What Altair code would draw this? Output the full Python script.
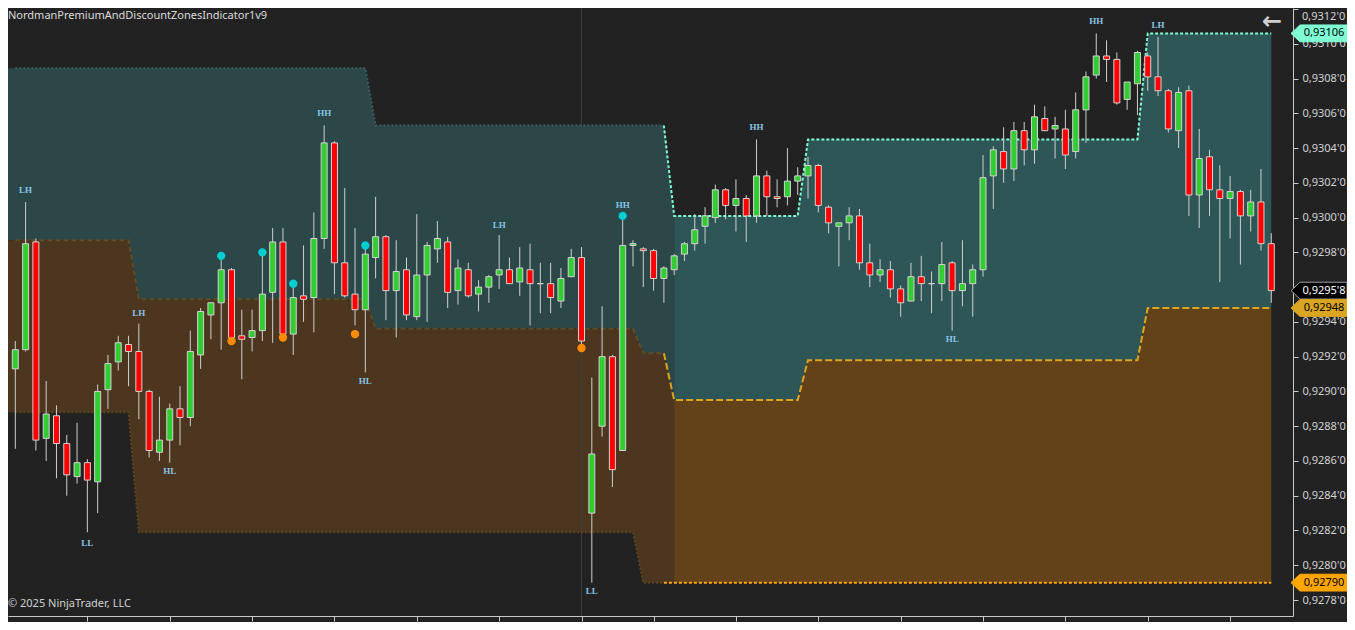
import altair as alt
import pandas as pd

# ---------------- data ----------------
OPEN = [0.92913, 0.92924, 0.92986, 0.92873, 0.92886, 0.92870, 0.92851, 0.92859, 0.92848, 0.92901,
        0.92917, 0.92927, 0.92923, 0.92900, 0.92865, 0.92872, 0.92890, 0.92885, 0.92921, 0.92944,
        0.92951, 0.92970, 0.92932, 0.92931, 0.92935, 0.92957, 0.92986, 0.92933, 0.92955, 0.92954,
        0.92988, 0.93043, 0.92974, 0.92956, 0.92947, 0.92977, 0.92989, 0.92958, 0.92970, 0.92943,
        0.92967, 0.92982, 0.92986, 0.92958, 0.92970, 0.92956, 0.92960, 0.92967, 0.92970, 0.92963,
        0.92970, 0.92962, 0.92962, 0.92952, 0.92966, 0.92977, 0.92830, 0.92880, 0.92920, 0.92866,
        0.92984, 0.92982, 0.92981, 0.92965, 0.92970, 0.92979, 0.92985, 0.92995, 0.93000, 0.93016,
        0.93007, 0.93011, 0.93001, 0.93024, 0.93012, 0.93012, 0.93021, 0.93024, 0.93030, 0.93006,
        0.92995, 0.92997, 0.93001, 0.92974, 0.92967, 0.92970, 0.92959, 0.92952, 0.92966, 0.92962,
        0.92962, 0.92974, 0.92958, 0.92962, 0.92970, 0.93024, 0.93038, 0.93028, 0.93050, 0.93039,
        0.93057, 0.93051, 0.93051, 0.93038, 0.93062, 0.93082, 0.93093, 0.93091, 0.93068, 0.93077,
        0.93093, 0.93081, 0.93073, 0.93050, 0.93073, 0.93013, 0.93035, 0.93016, 0.93011, 0.93015,
        0.93001, 0.93009, 0.92985]
HIGH = [0.92929, 0.93009, 0.92988, 0.92906, 0.92892, 0.92875, 0.92882, 0.92861, 0.92904, 0.92921,
        0.92932, 0.92932, 0.92939, 0.92901, 0.92897, 0.92893, 0.92903, 0.92935, 0.92948, 0.92951,
        0.92976, 0.92971, 0.92947, 0.92947, 0.92979, 0.92994, 0.92994, 0.92960, 0.92984, 0.93003,
        0.93053, 0.93044, 0.93017, 0.92994, 0.92983, 0.93012, 0.92990, 0.92987, 0.92977, 0.93002,
        0.92986, 0.92998, 0.92989, 0.92976, 0.92974, 0.92964, 0.92967, 0.92990, 0.92977, 0.92983,
        0.92985, 0.92974, 0.92974, 0.92971, 0.92982, 0.92983, 0.92908, 0.92949, 0.92921, 0.92999,
        0.92987, 0.92983, 0.92982, 0.92972, 0.92979, 0.92986, 0.93002, 0.93006, 0.93019, 0.93017,
        0.93022, 0.93013, 0.93045, 0.93027, 0.93022, 0.93040, 0.93029, 0.93035, 0.93031, 0.93007,
        0.92997, 0.93006, 0.93005, 0.92985, 0.92976, 0.92975, 0.92961, 0.92974, 0.92978, 0.92969,
        0.92986, 0.92975, 0.92987, 0.92973, 0.93036, 0.93041, 0.93052, 0.93055, 0.93055, 0.93065,
        0.93064, 0.93058, 0.93062, 0.93072, 0.93084, 0.93106, 0.93102, 0.93095, 0.93078, 0.93096,
        0.93095, 0.93104, 0.93074, 0.93075, 0.93076, 0.93051, 0.93039, 0.93030, 0.93024, 0.93016,
        0.93016, 0.93028, 0.92991]
LOW = [0.92867, 0.92923, 0.92866, 0.92860, 0.92850, 0.92840, 0.92847, 0.92819, 0.92830, 0.92890,
       0.92912, 0.92903, 0.92884, 0.92862, 0.92860, 0.92859, 0.92869, 0.92880, 0.92913, 0.92930,
       0.92924, 0.92930, 0.92907, 0.92923, 0.92929, 0.92928, 0.92932, 0.92921, 0.92940, 0.92934,
       0.92982, 0.92956, 0.92954, 0.92938, 0.92911, 0.92965, 0.92941, 0.92931, 0.92941, 0.92941,
       0.92940, 0.92974, 0.92948, 0.92950, 0.92954, 0.92946, 0.92951, 0.92959, 0.92962, 0.92955,
       0.92938, 0.92945, 0.92945, 0.92948, 0.92966, 0.92926, 0.92790, 0.92874, 0.92845, 0.92866,
       0.92972, 0.92960, 0.92958, 0.92951, 0.92967, 0.92975, 0.92981, 0.92985, 0.92997, 0.92999,
       0.92992, 0.92986, 0.92997, 0.93001, 0.93006, 0.93007, 0.93013, 0.93011, 0.93003, 0.92991,
       0.92972, 0.92987, 0.92970, 0.92960, 0.92963, 0.92954, 0.92943, 0.92952, 0.92952, 0.92945,
       0.92952, 0.92935, 0.92949, 0.92943, 0.92966, 0.93005, 0.93020, 0.93021, 0.93030, 0.93031,
       0.93050, 0.93034, 0.93028, 0.93034, 0.93043, 0.93080, 0.93078, 0.93065, 0.93062, 0.93059,
       0.93073, 0.93070, 0.93049, 0.93040, 0.93001, 0.92994, 0.93001, 0.92963, 0.92988, 0.92973,
       0.92992, 0.92981, 0.92951]
CLOSE = [0.92924, 0.92985, 0.92872, 0.92887, 0.92870, 0.92852, 0.92859, 0.92849, 0.92900, 0.92916,
         0.92928, 0.92923, 0.92900, 0.92866, 0.92872, 0.92890, 0.92885, 0.92923, 0.92946, 0.92951,
         0.92970, 0.92931, 0.92930, 0.92935, 0.92956, 0.92986, 0.92933, 0.92954, 0.92953, 0.92988,
         0.93043, 0.92974, 0.92955, 0.92947, 0.92979, 0.92989, 0.92958, 0.92969, 0.92944, 0.92967,
         0.92984, 0.92988, 0.92957, 0.92971, 0.92955, 0.92960, 0.92966, 0.92970, 0.92962, 0.92971,
         0.92962, 0.92962, 0.92954, 0.92965, 0.92977, 0.92929, 0.92864, 0.92920, 0.92855, 0.92984,
         0.92985, 0.92981, 0.92965, 0.92971, 0.92978, 0.92985, 0.92993, 0.93001, 0.93016, 0.93007,
         0.93011, 0.93001, 0.93024, 0.93012, 0.93011, 0.93021, 0.93024, 0.93030, 0.93007, 0.92997,
         0.92997, 0.93001, 0.92974, 0.92967, 0.92970, 0.92959, 0.92951, 0.92966, 0.92962, 0.92962,
         0.92973, 0.92958, 0.92962, 0.92970, 0.93023, 0.93039, 0.93028, 0.93050, 0.93039, 0.93058,
         0.93050, 0.93053, 0.93036, 0.93062, 0.93081, 0.93093, 0.93091, 0.93066, 0.93078, 0.93095,
         0.93081, 0.93073, 0.93051, 0.93072, 0.93013, 0.93034, 0.93016, 0.93011, 0.93015, 0.93001,
         0.93009, 0.92985, 0.92958]

# zone segments (first candle of each segment and its levels)
SEG_START = [0, 12, 35, 61, 64, 77, 110]
SEG_TOP = [0.93086, 0.93086, 0.93053, 0.93053, 0.93001, 0.93045, 0.93106]
SEG_MID = [0.92987, 0.92953, 0.92936, 0.92922, 0.92895, 0.92918, 0.92948]
SEG_BOT = [0.92888, 0.92819, 0.92819, 0.92790, 0.92790, 0.92790, 0.92790]
ACTIVE_FILL_FROM = 64
ACTIVE_LINE_FROM = 63

TEAL_DOT_X = [20, 24, 27, 34, 59]
TEAL_DOT_Y = [0.92978, 0.92980, 0.92962, 0.92984, 0.93001]
ORANGE_DOT_X = [21, 26, 33, 55]
ORANGE_DOT_Y = [0.92929, 0.92931, 0.92933, 0.92925]

LABEL_X = [1, 12, 7, 15, 30, 34, 47, 59, 56, 72, 91, 105, 111]
LABEL_Y = [0.93016, 0.92945, 0.92813, 0.92854, 0.93060, 0.92906, 0.92996, 0.93007,
           0.92785, 0.93052, 0.92930, 0.93113, 0.93111]
LABEL_TEXT = ["LH", "LH", "LL", "HL", "HH", "HL", "LH", "HH", "LL", "HH", "HL", "HH", "LH"]

SESSION_LINE_X = [55]
X_TICKS = [7, 15, 23, 31, 39, 47, 55, 62, 70, 78, 86, 94, 102, 110, 118]
Y_TICKS = [0.9278, 0.9280, 0.9282, 0.9284, 0.9286, 0.9288, 0.9290, 0.9292, 0.9294,
           0.9296, 0.9298, 0.9300, 0.9302, 0.9304, 0.9306, 0.9308, 0.9310, 0.9312]
TOP_TICK_LABEL = "0,9312'0"

TAG_PRICE = [0.93106, 0.92958, 0.92948, 0.92790]
TAG_TEXT = ["0,93106", "0,9295'8", "0,92948", "0,92790"]
TAG_FILL = ["#7fffd4", "#000000", "#daa520", "#ffa500"]
TAG_STROKE = ["#7fffd4", "#9a9a9a", "#daa520", "#ffa500"]
TAG_TEXT_COLOR = ["#000000", "#ffffff", "#000000", "#000000"]

TITLE = "NordmanPremiumAndDiscountZonesIndicator1v9"
COPYRIGHT = "\u00a9 2025 NinjaTrader, LLC"

# ---------------- layout ----------------
W, H = 1285, 608
X_DOMAIN = [-0.709, 124.11]
Y_DOMAIN = [0.927708, 0.931206]
BG = "#222222"
AXIS_GRAY = "#c8c8c8"
LABEL_GRAY = "#d2d2d2"

xs = alt.Scale(domain=X_DOMAIN, nice=False, zero=False, padding=0)
ys = alt.Scale(domain=Y_DOMAIN, nice=False, zero=False, padding=0)

X_AXIS = alt.Axis(values=X_TICKS, labels=False, title=None, tickSize=5, tickColor=AXIS_GRAY,
                  domainColor=AXIS_GRAY, grid=False, orient="bottom")
# the 0.9296 label sits under the last-price tag and the top one is drawn separately
Y_AXIS = alt.Axis(orient="right", values=Y_TICKS, title=None, grid=False, tickSize=5,
                  tickColor=AXIS_GRAY, domainColor=AXIS_GRAY, labelColor=LABEL_GRAY,
                  labelFont="Noto Sans", labelFontSize=11, labelPadding=4,
                  labelExpr="(abs(datum.value - 0.9296) < 0.00001 || datum.value > 0.93115) ? '' : "
                            "replace(format(datum.value, '.4f'), '.', ',') + \"'0\"")


def seg_index(i):
    k = 0
    for j, s in enumerate(SEG_START):
        if i >= s:
            k = j
    return k


def zone_rows(idx):
    rows = []
    for i in idx:
        k = seg_index(max(i, 0))
        rows.append({"x": i, "top": SEG_TOP[k], "mid": SEG_MID[k], "bot": SEG_BOT[k]})
    return pd.DataFrame(rows)


N = len(OPEN)
fill_dim = zone_rows([X_DOMAIN[0]] + list(range(0, ACTIVE_FILL_FROM + 1)))
fill_act = zone_rows(list(range(ACTIVE_FILL_FROM, N)))
line_dim = zone_rows(list(range(0, ACTIVE_LINE_FROM + 1)))
line_act = zone_rows(list(range(ACTIVE_LINE_FROM, N)))

candles = pd.DataFrame({"i": list(range(N)), "open": OPEN, "high": HIGH,
                        "low": LOW, "close": CLOSE})
candles["dir"] = ["up" if c > o else ("down" if c < o else "flat")
                  for o, c in zip(OPEN, CLOSE)]


def X(field):
    return alt.X(field, scale=xs, axis=X_AXIS)


def Y(field):
    return alt.Y(field, scale=ys, axis=Y_AXIS)


layers = []

# zone fills
layers.append(alt.Chart(fill_dim).mark_area(color="#2c4747", opacity=1).encode(
    x=X("x:Q"), y=Y("top:Q"), y2="mid:Q"))
layers.append(alt.Chart(fill_dim).mark_area(color="#4d361f", opacity=1).encode(
    x=X("x:Q"), y=Y("mid:Q"), y2="bot:Q"))
layers.append(alt.Chart(fill_act).mark_area(color="#2f5656", opacity=1).encode(
    x=X("x:Q"), y=Y("top:Q"), y2="mid:Q"))
layers.append(alt.Chart(fill_act).mark_area(color="#63421a", opacity=1).encode(
    x=X("x:Q"), y=Y("mid:Q"), y2="bot:Q"))

# session line
layers.append(alt.Chart(pd.DataFrame({"x": SESSION_LINE_X})).mark_rule(
    color="#3e3e3e", strokeWidth=1).encode(x=X("x:Q")))

# zone lines (historical = dim, active = bright)
for df, field, color, dash in [
    (line_dim, "top:Q", "#3b5f5f", [2, 2]),
    (line_dim, "mid:Q", "#5e4c27", [5, 3]),
    (line_dim, "bot:Q", "#5c4421", [2, 2]),
    (line_act, "top:Q", "#7fffd4", [3, 2]),
    (line_act, "mid:Q", "#daa520", [7, 3]),
    (line_act, "bot:Q", "#ffa500", [3, 2]),
]:
    layers.append(alt.Chart(df).mark_line(color=color, strokeWidth=2, strokeDash=dash).encode(
        x=X("x:Q"), y=Y(field)))

# candles
layers.append(alt.Chart(candles).mark_rule(color="#cfcfcf", strokeWidth=1).encode(
    x=X("i:Q"), y=Y("low:Q"), y2="high:Q"))
layers.append(alt.Chart(candles).mark_bar(size=6, stroke="#d3d3d3", strokeWidth=1).encode(
    x=X("i:Q"), y=Y("open:Q"), y2="close:Q",
    color=alt.Color("dir:N", scale=alt.Scale(domain=["up", "down", "flat"],
                                               range=["#32cd32", "#ff0000", "#d3d3d3"]),
                    legend=None)))

# swing dots
layers.append(alt.Chart(pd.DataFrame({"x": TEAL_DOT_X, "y": TEAL_DOT_Y})).mark_point(
    filled=True, shape="circle", size=70, color="#00ced1", opacity=1).encode(
    x=X("x:Q"), y=Y("y:Q")))
layers.append(alt.Chart(pd.DataFrame({"x": ORANGE_DOT_X, "y": ORANGE_DOT_Y})).mark_point(
    filled=True, shape="circle", size=70, color="#ff8c00", opacity=1).encode(
    x=X("x:Q"), y=Y("y:Q")))

# swing labels
layers.append(alt.Chart(pd.DataFrame({"x": LABEL_X, "y": LABEL_Y, "t": LABEL_TEXT})).mark_text(
    font="Liberation Serif", fontWeight="bold", fontSize=9, color="#87c5e6",
    align="center", baseline="middle").encode(x=X("x:Q"), y=Y("y:Q"), text="t:N"))

# price tags on the right
tags = pd.DataFrame({"y": TAG_PRICE, "t": TAG_TEXT, "fill": TAG_FILL,
                     "stroke": TAG_STROKE, "tc": TAG_TEXT_COLOR})
TAG_PATH = "M -1 0 L -0.68 -0.3 L 1 -0.3 L 1 0.3 L -0.68 0.3 Z"
layers.append(alt.Chart(tags).mark_point(shape=TAG_PATH, filled=True, size=56 * 56,
                                         opacity=1, strokeWidth=1).encode(
    x=alt.value(W + 26), y=Y("y:Q"),
    fill=alt.Fill("fill:N", scale=None), stroke=alt.Stroke("stroke:N", scale=None)))
layers.append(alt.Chart(tags).mark_text(font="Noto Sans", fontSize=11, align="center",
                                        baseline="middle").encode(
    x=alt.value(W + 31), y=Y("y:Q"), text="t:N", color=alt.Color("tc:N", scale=None)))

# top axis label (kept inside the canvas)
layers.append(alt.Chart(pd.DataFrame({"t": [TOP_TICK_LABEL]})).mark_text(
    font="Noto Sans", fontSize=11, color=LABEL_GRAY, align="left", baseline="top").encode(
    x=alt.value(W + 9), y=alt.value(3), text="t:N"))

# annotations
layers.append(alt.Chart(pd.DataFrame({"t": [TITLE]})).mark_text(
    font="Noto Sans", fontSize=11, color="#dcdcdc", align="left", baseline="middle").encode(
    x=alt.value(0), y=alt.value(8), text="t:N"))
layers.append(alt.Chart(pd.DataFrame({"t": [COPYRIGHT]})).mark_text(
    font="Noto Sans", fontSize=11, color="#cfcfcf", align="left", baseline="middle").encode(
    x=alt.value(0), y=alt.value(596), text="t:N"))
layers.append(alt.Chart(pd.DataFrame({"t": ["\u2190"]})).mark_text(
    font="DejaVu Sans", fontSize=24, fontWeight="bold", color="#cfcfcf", align="center",
    baseline="middle").encode(x=alt.value(1264), y=alt.value(14), text="t:N"))

chart = alt.layer(*layers).properties(
    width=W, height=H, background=BG,
    autosize=alt.AutoSizeParams(type="none"),
    padding={"left": 0, "top": 0, "right": 54, "bottom": 6},
).configure_view(stroke=None, fill=BG)

chart.save("out.html", embed_options={"renderer": "svg", "actions": False})
